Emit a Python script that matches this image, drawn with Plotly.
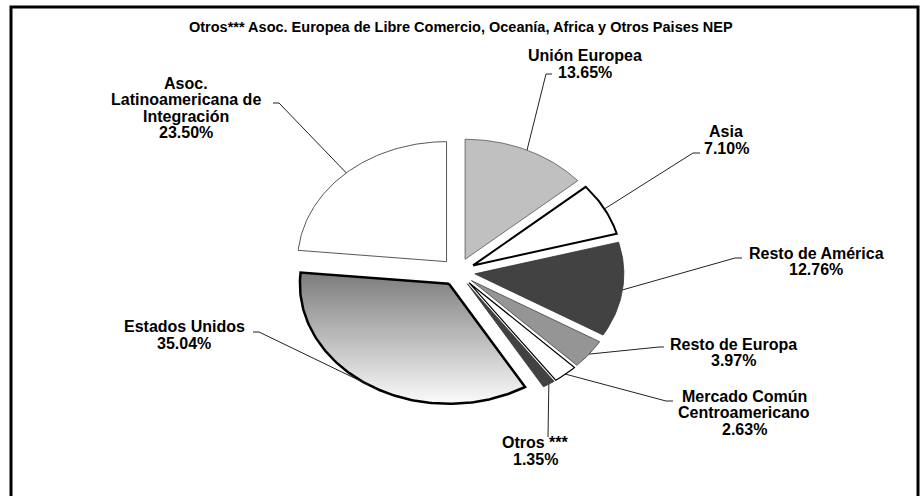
import numpy as np
import plotly.graph_objects as go

# datos
regiones = ["Unión Europea", "Asia", "Resto de América", "Resto de Europa",
            "Mercado Común Centroamericano", "Otros ***", "Estados Unidos",
            "Asoc. Latinoamericana de Integración"]
porcentajes = [13.65, 7.10, 12.76, 3.97, 2.63, 1.35, 35.04, 23.50]
titulo = "Otros*** Asoc. Europea de Libre Comercio, Oceanía, Africa y Otros Paises NEP"

# como se parte cada etiqueta en renglones
renglones = {
    "Mercado Común Centroamericano": ["Mercado Común", "Centroamericano"],
    "Asoc. Latinoamericana de Integración": ["Asoc.", "Latinoamericana de", "Integración"],
}

# estilo de cada rebanada
relleno = ["#c0c0c0", "#ffffff", "#424242", "#959595", "#ffffff", "#424242", None, "#ffffff"]
borde_color = ["#555555", "#000000", "#333333", "#444444", "#000000", "#333333", "#000000", "#444444"]
borde_ancho = [0.8, 2, 0.8, 0.8, 1.2, 0.8, 2.5, 0.9]

# geometria (pixeles): pastel achatado, separado
cx, cy, rx, ry = 458, 272, 149, 120
sep_x, sep_y = 17, 14
interlinea = 16.5
fuente = "Liberation Sans, Arial, sans-serif"

# posicion de cada etiqueta y su guia (punto de texto -> codo)
pos_etiqueta = [(585, 64), (726, 140), (816, 261.5), (733, 352.5),
                (744, 412.5), (535, 451), (184, 335), (186, 108)]
guia = [((552, 74), (546, 74)), ((700, 153), (693, 153)), ((742, 258), (735, 258)),
        ((664, 347), (659, 347)), ((673, 401), (666, 401)), ((548, 437), (548, 437)),
        ((253, 332), (259, 332)), ((273, 103), (279, 103))]

fig = go.Figure()

acum = np.concatenate([[0], np.cumsum(porcentajes)])
anclas = []
for i, p in enumerate(porcentajes):
    a0 = np.radians(acum[i] * 3.6)
    a1 = np.radians(acum[i + 1] * 3.6)
    am = (a0 + a1) / 2
    ox = sep_x * np.sin(am)
    oy = -sep_y * np.cos(am)
    t = np.linspace(a0, a1, max(3, int(np.degrees(a1 - a0))))
    xs = np.concatenate([[cx + ox], cx + ox + rx * np.sin(t), [cx + ox]])
    ys = np.concatenate([[cy + oy], cy + oy - ry * np.cos(t), [cy + oy]])
    anclas.append((cx + ox + rx * np.sin(am), cy + oy - ry * np.cos(am)))
    tr = dict(x=xs, y=ys, mode="lines", fill="toself",
              line=dict(color=borde_color[i], width=borde_ancho[i]),
              hoverinfo="skip", showlegend=False)
    if relleno[i] is None:
        tr["fillgradient"] = dict(type="vertical",
                                  colorscale=[[0, "#7c7c7c"], [1, "#fbfbfb"]],
                                  start=ys.min(), stop=ys.max())
    else:
        tr["fillcolor"] = relleno[i]
    fig.add_trace(go.Scatter(**tr))

# lineas guia
for i in range(len(porcentajes)):
    (x0, y0), (x1, y1) = guia[i]
    ax, ay = anclas[i]
    fig.add_trace(go.Scatter(x=[x0, x1, ax], y=[y0, y1, ay], mode="lines",
                             line=dict(color="#222222", width=1),
                             hoverinfo="skip", showlegend=False))

# etiquetas, un renglon por anotacion para controlar el interlineado
for i, r in enumerate(regiones):
    lineas = renglones.get(r, [r]) + [f"{porcentajes[i]:.2f}%"]
    n = len(lineas)
    for k, txt in enumerate(lineas):
        fig.add_annotation(x=pos_etiqueta[i][0],
                           y=pos_etiqueta[i][1] + (k - (n - 1) / 2) * interlinea,
                           text="<b>" + txt + "</b>", showarrow=False,
                           xanchor="center", yanchor="middle",
                           font=dict(family=fuente, size=16, color="#000000"))

fig.add_annotation(x=461, y=27, text="<b>" + titulo + "</b>", showarrow=False,
                   xanchor="center", yanchor="middle",
                   font=dict(family=fuente, size=14.5, color="#000000"))

fig.add_shape(type="rect", x0=11, y0=7, x1=918, y1=520,
              line=dict(color="#000000", width=3), fillcolor="rgba(0,0,0,0)")

fig.update_layout(
    width=923, height=496, autosize=False,
    margin=dict(l=0, r=0, t=0, b=0),
    paper_bgcolor="white", plot_bgcolor="white",
    xaxis=dict(range=[0, 923], visible=False, fixedrange=True),
    yaxis=dict(range=[496, 0], visible=False, fixedrange=True),
)

fig.write_html("out.html", config={"displayModeBar": False},
               post_script="document.body.style.margin='0';document.body.style.overflow='hidden';")
